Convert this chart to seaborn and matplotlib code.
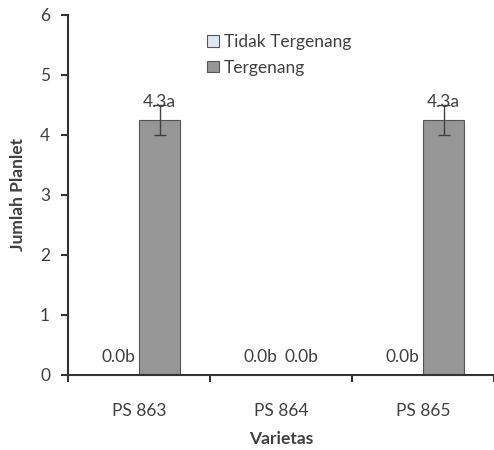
import pandas as pd
import seaborn as sns
import matplotlib.pyplot as plt
from matplotlib.ticker import FixedLocator

varietas = ["PS 863", "PS 864", "PS 865"]
tidak_tergenang = [0.0, 0.0, 0.0]
tergenang = [4.25, 0.0, 4.25]
err_tergenang = [0.25, 0.0, 0.25]
lbl_tidak = ["0.0b", "0.0b", "0.0b"]
lbl_tergenang = ["4.3a", "0.0b", "4.3a"]

df = pd.DataFrame({
    "Varietas": varietas * 2,
    "Kondisi": ["Tidak Tergenang"] * 3 + ["Tergenang"] * 3,
    "Jumlah": tidak_tergenang + tergenang,
})

sns.set_style("white")
plt.rcParams['font.family'] = ['Lato', 'DejaVu Sans']
txt = "#404040"
fs = 12.5

fig = plt.figure(figsize=(4.94, 4.5), dpi=100)
ax = fig.add_axes([0.138, 0.167, 0.862, 0.8])

sns.barplot(data=df, x="Varietas", y="Jumlah", hue="Kondisi",
            palette=["#dce9f5", "#969696"], width=0.58, errorbar=None,
            edgecolor="#555555", linewidth=0.8, ax=ax)

# bars come out in hue order: first the 3 Tidak bars, then 3 Tergenang
bars = ax.patches[:6]
for p, lab in zip(bars[:3], lbl_tidak):
    cx = p.get_x() + p.get_width() / 2
    ax.annotate(lab, (cx, p.get_height()), xytext=(0, 7), textcoords="offset points",
                ha="center", va="bottom", fontsize=fs, color=txt)
for p, lab, e in zip(bars[3:6], lbl_tergenang, err_tergenang):
    cx = p.get_x() + p.get_width() / 2
    h = p.get_height()
    if e > 0:
        ax.errorbar(cx, h, yerr=e, fmt="none", ecolor="#404040", elinewidth=1, capsize=4)
    ax.annotate(lab, (cx, h), xytext=(0, 7), textcoords="offset points",
                ha="center", va="bottom", fontsize=fs, color=txt)

ax.set_xlim(-0.5, 2.5)
ax.set_ylim(0, 6)
ax.set_yticks(range(0, 7))
ax.xaxis.set_minor_locator(FixedLocator([-0.5, 0.5, 1.5, 2.5]))
ax.tick_params(axis="x", which="major", length=0, pad=20, labelsize=fs, labelcolor=txt)
ax.tick_params(axis="x", which="minor", length=5, width=1.5, color="#333333", direction="out", bottom=True)
ax.tick_params(axis="y", length=5, width=1.5, color="#333333", direction="out", left=True,
               labelsize=fs, labelcolor=txt, pad=8)

for s in ["top", "right"]:
    ax.spines[s].set_visible(False)
for s in ["left", "bottom"]:
    ax.spines[s].set_color("#333333")
    ax.spines[s].set_linewidth(1.5)

ax.set_xlabel("Varietas", fontsize=fs, fontweight="bold", color=txt, labelpad=9)
ax.set_ylabel("Jumlah Planlet", fontsize=fs, fontweight="bold", color=txt, labelpad=10)

leg = ax.legend(loc="upper left", bbox_to_anchor=(0.29, 0.99), frameon=False, fontsize=fs,
                handlelength=0.65, handleheight=0.65, handletextpad=0.3, labelspacing=0.55,
                labelcolor=txt)

fig.savefig("out.png", dpi=100)
